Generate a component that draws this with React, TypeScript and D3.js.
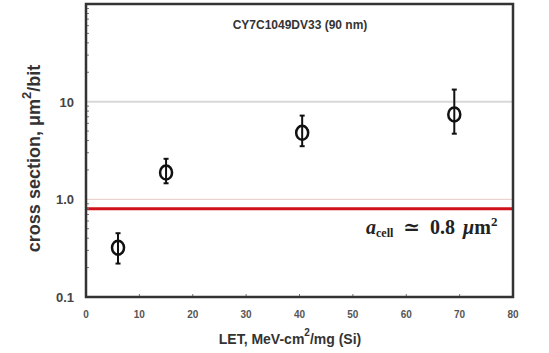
import * as d3 from "d3";

const letValues = [6, 15, 40.5, 69];
const crossSection = [0.32, 1.88, 4.8, 7.4];
const errLow = [0.22, 1.46, 3.5, 4.7];
const errHigh = [0.45, 2.6, 7.2, 13.3];
const xTicks = [0, 10, 20, 30, 40, 50, 60, 70, 80];
const yTicks = [0.1, 1, 10];
const yTickLabels = ["0.1", "1.0", "10"];
const cellArea = 0.8;

export default function App() {
  const width = 549;
  const height = 353;
  const margin = { top: 4, right: 36, bottom: 56, left: 86 };
  const x = d3.scaleLinear([0, 80], [margin.left, width - margin.right]);
  const y = d3.scaleLog([0.1, 100], [height - margin.bottom, margin.top]);
  const minor: number[] = [];
  for (const decade of [0.1, 1, 10]) {
    for (let k = 2; k <= 9; k++) minor.push(decade * k);
  }
  const x0 = x(0);
  const x1 = x(80);
  const y0 = y(0.1);
  const y1 = y(100);
  const font = "Arial, 'Liberation Sans', sans-serif";

  return (
    <svg
      width={width}
      height={height}
      style={{ position: "absolute", left: 0, top: 0, background: "#fff" }}
    >
      {/* faint grid at decades */}
      <line x1={x0} x2={x1} y1={y(10)} y2={y(10)} stroke="#d8d8d8" strokeWidth={2} />
      <line x1={x0} x2={x1} y1={y(1)} y2={y(1)} stroke="#e8c8c8" strokeWidth={1} />
      {/* red cell-area line */}
      <line x1={x0} x2={x1} y1={y(cellArea)} y2={y(cellArea)} stroke="#d0101a" strokeWidth={3} />
      {/* minor ticks */}
      {minor.map((v) => (
        <line key={v} x1={x0} x2={x0 + 3} y1={y(v)} y2={y(v)} stroke="#777" strokeWidth={1} />
      ))}
      {xTicks.map((t) => (
        <line key={t} x1={x(t)} x2={x(t)} y1={y0} y2={y0 - 3} stroke="#777" strokeWidth={1} />
      ))}
      {/* frame */}
      <rect x={x0} y={y1} width={x1 - x0} height={y0 - y1} fill="none" stroke="#333" strokeWidth={2.5} />
      {/* tick labels */}
      {yTicks.map((t, i) => (
        <text
          key={t}
          x={x0 - 12}
          y={y(t) + 5}
          textAnchor="end"
          fontFamily={font}
          fontWeight="bold"
          fontSize={13}
          fill="#444"
        >
          {yTickLabels[i]}
        </text>
      ))}
      {xTicks.map((t) => (
        <text
          key={t}
          x={x(t)}
          y={y0 + 21}
          textAnchor="middle"
          fontFamily={font}
          fontWeight="bold"
          fontSize={10}
          fill="#555"
        >
          {t}
        </text>
      ))}
      {/* title */}
      <text x={300} y={29} textAnchor="middle" fontFamily={font} fontWeight="bold" fontSize={12} fill="#333">
        CY7C1049DV33 (90 nm)
      </text>
      {/* axis labels */}
      <text
        transform={`translate(40, ${(y0 + y1) / 2 + 8}) rotate(-90)`}
        textAnchor="middle"
        fontFamily={font}
        fontWeight="bold"
        fontSize={18}
        fill="#333"
      >
        cross section, μm<tspan dy={-9} fontSize={13}>2</tspan>
        <tspan dy={9}>/bit</tspan>
      </text>
      <text x={290} y={344} textAnchor="middle" fontFamily={font} fontWeight="bold" fontSize={14} fill="#333">
        LET, MeV-cm<tspan dy={-8} fontSize={10}>2</tspan>
        <tspan dy={8}>/mg (Si)</tspan>
      </text>
      {/* annotation */}
      <text x={366} y={y(cellArea) + 25} fontFamily="'Liberation Serif', 'DejaVu Serif', serif" fontWeight="bold" fontSize={20} fill="#222">
        <tspan fontStyle="italic">a</tspan>
        <tspan dy={3} fontSize={12}>cell</tspan>
        <tspan dy={-3} dx={10}>≃</tspan>
        <tspan dx={10}>0.8</tspan>
        <tspan dx={8} fontStyle="italic">μ</tspan>
        <tspan>m</tspan>
        <tspan dy={-8} fontSize={13}>2</tspan>
      </text>
      {/* data points */}
      {letValues.map((v, i) => (
        <g key={v} stroke="#111" fill="none" strokeWidth={2}>
          <line x1={x(v)} x2={x(v)} y1={y(errLow[i])} y2={y(errHigh[i])} />
          <line x1={x(v) - 2.5} x2={x(v) + 2.5} y1={y(errLow[i])} y2={y(errLow[i])} />
          <line x1={x(v) - 2.5} x2={x(v) + 2.5} y1={y(errHigh[i])} y2={y(errHigh[i])} />
          <ellipse cx={x(v)} cy={y(crossSection[i])} rx={6} ry={7} fill="#fff" strokeWidth={2.5} />
          <line x1={x(v)} x2={x(v)} y1={y(crossSection[i]) - 7} y2={y(crossSection[i]) + 7} />
        </g>
      ))}
    </svg>
  );
}
